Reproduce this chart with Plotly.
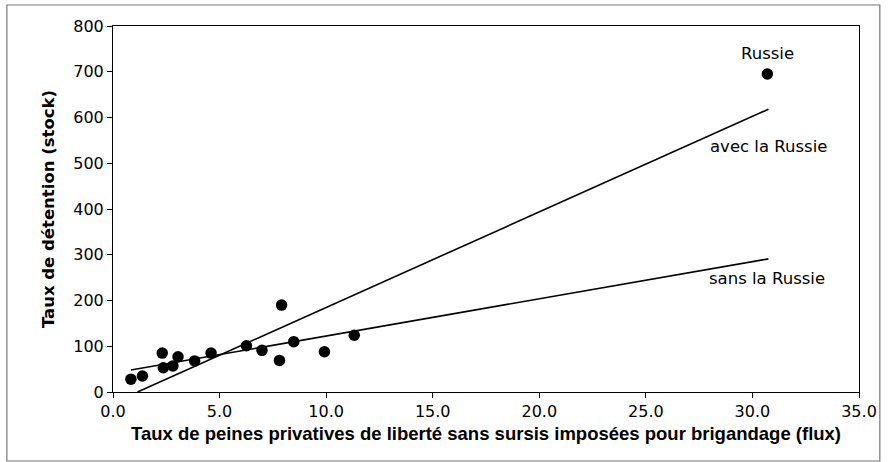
import plotly.graph_objects as go

# Data points (taux de peines privatives sans sursis pour brigandage, taux de détention)
x_vals = [0.84, 1.38, 2.31, 2.36, 2.81, 3.05, 3.83, 4.60, 6.26, 6.99, 7.91, 7.81, 8.48, 9.92, 11.32]
y_vals = [28, 35, 85, 53, 57, 77, 68, 85, 101, 91, 190, 69, 110, 88, 124]
russie_x = [30.7]
russie_y = [695]

# Trend lines
avec_x = [1.15, 30.75]
avec_y = [0, 618]
sans_x = [0.84, 30.75]
sans_y = [48, 291]

x_ticks = [0, 5, 10, 15, 20, 25, 30, 35]
x_tick_labels = ["0.0", "5.0", "10.0", "15.0", "20.0", "25.0", "30.0", "35.0"]
y_ticks = [0, 100, 200, 300, 400, 500, 600, 700, 800]

fig = go.Figure()
fig.add_trace(go.Scatter(x=avec_x, y=avec_y, mode="lines",
                         line=dict(color="black", width=1.6), showlegend=False))
fig.add_trace(go.Scatter(x=sans_x, y=sans_y, mode="lines",
                         line=dict(color="black", width=1.6), showlegend=False))
fig.add_trace(go.Scatter(x=x_vals + russie_x, y=y_vals + russie_y, mode="markers",
                         marker=dict(color="black", size=11.5), showlegend=False))

fig.add_annotation(x=30.7, y=740, text="Russie", showarrow=False,
                   font=dict(family="DejaVu Sans", size=16.5, color="black"))
fig.add_annotation(x=30.75, y=537, text="avec la Russie", showarrow=False,
                   font=dict(family="DejaVu Sans", size=16.5, color="black"))
fig.add_annotation(x=30.7, y=249, text="sans la Russie", showarrow=False,
                   font=dict(family="DejaVu Sans", size=16.5, color="black"))

# outer frame (figure pixels: left 6, top 5, right 886, bottom 461)
W, H = 889, 462
L, R, T, B = 113, 24, 26, 70
pw, ph = W - L - R, H - T - B
fig.add_shape(type="rect", xref="paper", yref="paper",
              x0=(6 - L) / pw, x1=(886 - L) / pw,
              y0=(H - B - 461) / ph, y1=(H - B - 5) / ph,
              line=dict(color="#777777", width=1.2))

fig.update_layout(
    width=W, height=H,
    margin=dict(l=L, r=R, t=T, b=B),
    paper_bgcolor="white", plot_bgcolor="white",
    font=dict(family="DejaVu Sans", size=16, color="black"),
    xaxis=dict(range=[0, 35], tickvals=x_ticks, ticktext=x_tick_labels,
               showgrid=False, zeroline=False, showline=True, linecolor="black",
               linewidth=1, mirror=True, ticks="outside", ticklen=5, tickcolor="black",
               tickfont=dict(size=16),
               title=dict(text="<b>Taux de peines privatives de liberté sans sursis imposées pour brigandage (flux)</b>",
                          font=dict(family="Liberation Sans Narrow, Liberation Sans", size=18.5),
                          standoff=6)),
    yaxis=dict(range=[0, 800], tickvals=y_ticks,
               showgrid=False, zeroline=False, showline=True, linecolor="black",
               linewidth=1, mirror=True, ticks="outside", ticklen=5, tickcolor="black",
               tickfont=dict(size=16),
               title=dict(text="<b>Taux de détention (stock)</b>",
                          font=dict(family="DejaVu Sans", size=16.5), standoff=14)),
)

fig.write_html("out.html", config={"displayModeBar": False},
               post_script="document.body.style.margin='0px';")
